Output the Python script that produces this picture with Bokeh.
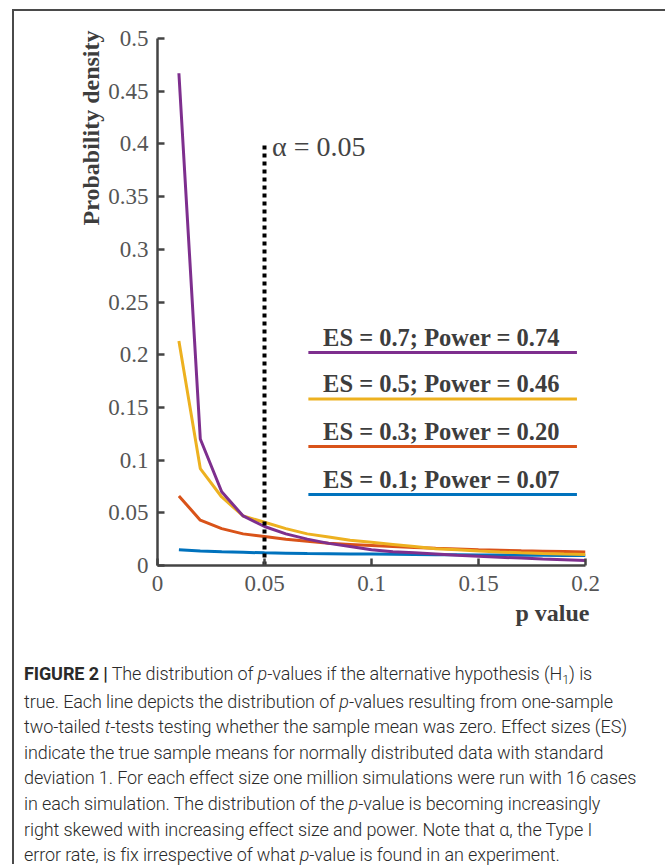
from bokeh.plotting import figure
from bokeh.models import FixedTicker, Title, Div
from bokeh.layouts import column, row
from bokeh.core.properties import value
from bokeh.embed import file_html
from bokeh.resources import INLINE

# ---------------- data ----------------
p_values = [0.01, 0.02, 0.03, 0.04, 0.05, 0.06, 0.07, 0.08, 0.09, 0.10,
            0.11, 0.12, 0.13, 0.14, 0.15, 0.16, 0.17, 0.18, 0.19, 0.20]
dens_es07 = [0.467, 0.120, 0.070, 0.047, 0.037, 0.030, 0.025, 0.021, 0.018, 0.015,
             0.013, 0.012, 0.011, 0.0098, 0.0088, 0.0078, 0.0070, 0.0062, 0.0055, 0.0048]
dens_es05 = [0.213, 0.092, 0.065, 0.047, 0.041, 0.035, 0.030, 0.027, 0.024, 0.022,
             0.020, 0.018, 0.016, 0.015, 0.0138, 0.0128, 0.0120, 0.0113, 0.0108, 0.0104]
dens_es03 = [0.066, 0.043, 0.035, 0.030, 0.0275, 0.025, 0.023, 0.021, 0.020, 0.019,
             0.018, 0.017, 0.0163, 0.0157, 0.0150, 0.0145, 0.0140, 0.0136, 0.0132, 0.0128]
dens_es01 = [0.0150, 0.0138, 0.0130, 0.0125, 0.0120, 0.0117, 0.0114, 0.0112, 0.0110, 0.0108,
             0.0106, 0.0104, 0.0102, 0.0101, 0.0100, 0.0099, 0.0098, 0.0097, 0.0096, 0.0095]

series_labels = ["ES = 0.7; Power = 0.74", "ES = 0.5; Power = 0.46",
                 "ES = 0.3; Power = 0.20", "ES = 0.1; Power = 0.07"]
series_colors = ["#7E2F8E", "#EDB120", "#D95319", "#0072BD"]
legend_y = [0.202, 0.158, 0.113, 0.0674]

alpha_level = 0.05
alpha_line_top = 0.40
x_ticks = [0, 0.05, 0.1, 0.15, 0.2]
x_tick_labels = ["0", "0.05", "0.1", "0.15", "0.2"]
y_ticks = [0, 0.05, 0.1, 0.15, 0.2, 0.25, 0.3, 0.35, 0.4, 0.45, 0.5]
y_tick_labels = ["0", "0.05", "0.1", "0.15", "0.2", "0.25", "0.3", "0.35", "0.4", "0.45", "0.5"]

# ---------------- figure ----------------
SERIF = "Liberation Serif"
AX = "#444444"
TXT = "#3d3d3d"
W, H = 643, 630

p = figure(width=W, height=H, x_range=(0, 0.2), y_range=(0, 0.5),
           output_backend="svg", toolbar_location=None, margin=0,
           min_border_left=143, min_border_right=72, min_border_top=27, min_border_bottom=76)
p.outline_line_color = None
p.grid.visible = False
p.background_fill_color = "white"
p.border_fill_color = "white"

for ax, ticks, labels in ((p.xaxis[0], x_ticks, x_tick_labels), (p.yaxis[0], y_ticks, y_tick_labels)):
    ax.ticker = FixedTicker(ticks=ticks)
    ax.major_label_overrides = {t: l for t, l in zip(ticks, labels)}
    ax.minor_tick_line_color = None
    ax.major_tick_in = 7
    ax.major_tick_out = 0
    ax.axis_line_color = AX
    ax.axis_line_width = 2.5
    ax.major_tick_line_color = AX
    ax.major_tick_line_width = 2.5
    ax.major_label_text_font = SERIF
    ax.major_label_text_font_size = "23px"
    ax.major_label_text_color = "#555555"
p.xaxis.major_label_standoff = 10
p.yaxis.major_label_standoff = 9

# curves
p.line(p_values, dens_es01, line_color=series_colors[3], line_width=3)
p.line(p_values, dens_es03, line_color=series_colors[2], line_width=3)
p.line(p_values, dens_es05, line_color=series_colors[1], line_width=3)
p.line(p_values, dens_es07, line_color=series_colors[0], line_width=3)

# alpha line
p.line([alpha_level, alpha_level], [0, alpha_line_top], line_color="black",
       line_width=4, line_dash="4 4")
p.text(x=[alpha_level + 0.0035], y=[0.398], text=["\u03b1 = 0.05"],
       text_font=value(SERIF), text_font_size="28px", text_color="#444444",
       text_align="left", text_baseline="alphabetic")

# legend-like annotation
for lab, col, ly in zip(series_labels, series_colors, legend_y):
    p.line([0.0705, 0.196], [ly, ly], line_color=col, line_width=3)
    p.text(x=[0.1327], y=[ly + 0.0145], text=[lab], text_font=value(SERIF),
           text_font_size="24.5px", text_font_style="bold", text_color=TXT,
           text_align="center", text_baseline="alphabetic")

# axis titles
p.add_layout(Title(text="Probability density", align="right", offset=-8, standoff=4,
                   text_font=SERIF, text_font_size="24px", text_font_style="bold",
                   text_color=TXT), "left")
p.add_layout(Title(text="p value", align="right", offset=-4, standoff=8,
                   text_font=SERIF, text_font_size="24px", text_font_style="bold",
                   text_color=TXT), "below")

caption_html = (
    "<b style='font-weight:700'>FIGURE 2 |</b> The distribution of <i>p</i>-values if the alternative hypothesis "
    "(H<span style='font-size:70%;position:relative;top:0.35em'>1</span>) is<br>"
    "true. Each line depicts the distribution of <i>p</i>-values resulting from one-sample<br>"
    "two-tailed <i>t</i>-tests testing whether the sample mean was zero. Effect sizes (ES)<br>"
    "indicate the true sample means for normally distributed data with standard<br>"
    "deviation 1. For each effect size one million simulations were run with 16 cases<br>"
    "in each simulation. The distribution of the <i>p</i>-value is becoming increasingly<br>"
    "right skewed with increasing effect size and power. Note that \u03b1, the Type I<br>"
    "error rate, is fix irrespective of what <i>p</i>-value is found in an experiment."
)
caption = Div(text=caption_html, width=W, height=218, margin=0,
              styles={"font-family": "Roboto, 'Liberation Sans', sans-serif",
                      "font-weight": "300", "font-size": "18px",
                      "line-height": "25.6px", "color": "#2a2a2a",
                      "white-space": "nowrap", "padding-left": "10px",
                      "padding-top": "20px", "letter-spacing": "-0.1px"})

# page frame lines (left and top border of the reference crop)
vline = Div(text="", width=2, height=855, margin=(9, 0, 0, 12),
            styles={"background-color": "#4a4a4a", "font-size": "0", "overflow": "hidden"})
hline = Div(text="", width=651, height=2, margin=0,
            styles={"background-color": "#4a4a4a", "font-size": "0", "overflow": "hidden"})

right_col = column(hline, p, caption, margin=(9, 0, 0, 0), spacing=0)
layout = row(vline, right_col, margin=0, spacing=0)

open("out.html", "w").write(file_html(layout, INLINE))
